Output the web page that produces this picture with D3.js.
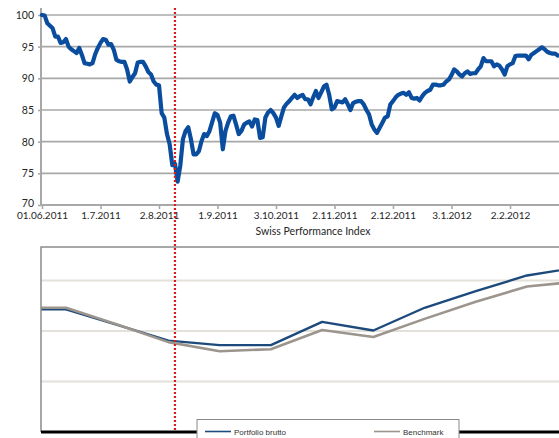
<!DOCTYPE html>
<html>
<head>
<meta charset="utf-8">
<script src="https://cdn.jsdelivr.net/npm/d3@7"></script>
<style>
  html, body { margin: 0; padding: 0; background: #fff; }
  svg { display: block; }
</style>
</head>
<body>
<div id="chart"></div>
<script>
// --- data -------------------------------------------------------------
// Swiss Performance Index, rebased to 100, one value per trading day
var spiValues = [
	100, 99.9, 98.7, 98.3, 97.9, 96.6, 96.6, 95.6, 95.7, 96.2,
	95.0, 94.6, 94.3, 94.0, 94.8, 93.7, 92.4, 92.3, 92.2, 92.4,
	93.8, 94.8, 95.6, 96.2, 96.1, 95.3, 95.4, 94.5, 92.9, 92.7,
	92.6, 92.6, 91.4, 89.5, 90.2, 90.8, 92.5, 92.6, 92.6, 91.9,
	91.0, 90.6, 89.5, 89.0, 88.9, 84.5, 83.8, 81.2, 79.6, 76.3,
	76.5, 73.7, 76.2, 80.4, 81.7, 82.3, 80.4, 78.0, 78.0, 78.5,
	80.1, 81.2, 80.9, 81.7, 83.1, 84.5, 84.2, 83.0, 78.8, 81.7,
	83.0, 84.0, 84.1, 82.7, 81.2, 81.7, 82.7, 83.0, 83.2, 82.4,
	83.5, 83.4, 80.6, 80.7, 83.8, 84.6, 85.0, 84.5, 83.8, 82.5,
	84.0, 85.4, 86.0, 86.4, 86.9, 87.4, 86.9, 87.2, 87.4, 86.7,
	86.7, 85.9, 87.0, 88.0, 86.9, 87.8, 88.7, 89.0, 87.4, 85.1,
	85.4, 86.4, 86.3, 86.2, 86.7, 85.9, 85.0, 86.1, 86.3, 86.4,
	86.4, 85.9, 85.0, 84.3, 82.7, 81.9, 81.4, 82.2, 83.0, 83.8,
	84.0, 85.9, 86.4, 87.0, 87.4, 87.6, 87.7, 87.4, 87.8, 86.9,
	86.8, 86.9, 86.5, 87.2, 87.7, 88.0, 88.2, 89.0, 89.0, 88.9,
	88.9, 89.0, 89.5, 89.8, 90.5, 91.4, 91.1, 90.6, 90.3, 90.8,
	91.1, 90.7, 90.8, 90.8, 91.4, 91.9, 93.2, 92.7, 92.7, 92.7,
	91.9, 92.2, 92.0, 91.4, 90.6, 91.9, 92.2, 92.4, 93.5, 93.6,
	93.6, 93.6, 93.6, 93.0, 93.7, 94.0, 94.3, 94.6, 94.9, 94.6,
	94.2, 94.0, 93.9, 93.9, 93.6
];

// category axis labels every 22 trading days
var spiTickDays = [0, 22, 44, 66, 88, 110, 132, 154, 176];
var spiTickLabels = ["01.06.2011", "1.7.2011", "2.8.2011", "1.9.2011", "3.10.2011",
	"2.11.2011", "2.12.2011", "3.1.2012", "2.2.2012"];
var spiYTicks = [70, 75, 80, 85, 90, 95, 100];

// trading day of the marked event (red dotted line)
var markerDay = 50;

// lower chart, one value per period (first period lies left of the frame)
var periods = [0, 1, 2, 3, 4, 5, 6, 7, 8, 9, 10, 11];
var portfolioValues = [97.15, 97.15, 95.6, 94.05, 93.6, 93.6, 95.9, 95.05, 97.3, 98.95, 100.5, 101.3];
var benchmarkValues = [97.3, 97.3, 95.65, 93.9, 93.0, 93.2, 95.1, 94.4, 96.2, 97.9, 99.4, 99.9];
var lowerGrid = [90, 95, 100];
var lowerBase = 85;
var seriesNames = ["Portfolio brutto", "Benchmark"];

// --- layout -----------------------------------------------------------
var WIDTH = 559;
var HEIGHT = 438;
var GRID_COLOR = "#a8a8a8";
var TEXT_COLOR = "#262626";
var SPI_COLOR = "#0a4d9e";
var PORTFOLIO_COLOR = "#1d4a7c";
var BENCHMARK_COLOR = "#9c958d";
var LABEL_FONT = "Lato, 'Open Sans', sans-serif";

var svg = d3.select("#chart").append("svg")
	.attr("width", WIDTH)
	.attr("height", HEIGHT);

// ---------------------------------------------------------------------
// upper chart: Swiss Performance Index
// ---------------------------------------------------------------------
var x = d3.scaleLinear().domain([0, 176]).range([42, 510]);
var y = d3.scaleLinear().domain([70, 100]).range([205, 15]);

var upperG = svg.append("g").attr("font-family", LABEL_FONT);

// horizontal gridlines
upperG.selectAll("line.grid")
	.data(spiYTicks.filter(function (d) { return d > 70; }))
	.enter().append("line")
	.attr("class", "grid")
	.attr("x1", 41).attr("x2", WIDTH)
	.attr("y1", function (d) { return y(d); })
	.attr("y2", function (d) { return y(d); })
	.attr("stroke", GRID_COLOR)
	.attr("stroke-width", 1.6);

// y axis
var yAxis = d3.axisLeft(y).tickValues(spiYTicks).tickSize(3).tickPadding(4);
var yAxisG = upperG.append("g")
	.attr("transform", "translate(41,0)")
	.call(yAxis);
yAxisG.select(".domain").remove();
yAxisG.selectAll(".tick line").attr("stroke", GRID_COLOR).attr("stroke-width", 1.6);
yAxisG.selectAll(".tick text")
	.attr("fill", TEXT_COLOR)
	.attr("font-size", 10.5)
	.attr("font-family", LABEL_FONT)
	.attr("dy", function (d) { return d === 70 ? "0.1em" : "0.32em"; });

upperG.append("line")
	.attr("x1", 41).attr("x2", 41)
	.attr("y1", 8).attr("y2", y(70) + 1)
	.attr("stroke", GRID_COLOR)
	.attr("stroke-width", 2);

// x axis
var xAxis = d3.axisBottom(x)
	.tickValues(spiTickDays)
	.tickFormat(function (d, i) { return spiTickLabels[i]; })
	.tickSize(4)
	.tickPadding(3);
var xAxisG = upperG.append("g")
	.attr("transform", "translate(0," + y(70) + ")")
	.call(xAxis);
xAxisG.select(".domain").remove();
xAxisG.selectAll(".tick line").attr("stroke", GRID_COLOR).attr("stroke-width", 1.6);
xAxisG.selectAll(".tick text")
	.attr("fill", TEXT_COLOR)
	.attr("font-size", 10)
	.attr("font-family", LABEL_FONT);

upperG.append("line")
	.attr("x1", 41).attr("x2", WIDTH)
	.attr("y1", y(70)).attr("y2", y(70))
	.attr("stroke", GRID_COLOR)
	.attr("stroke-width", 2);

// title below the axis
upperG.append("text")
	.attr("x", 313)
	.attr("y", 235)
	.attr("text-anchor", "middle")
	.attr("font-size", 10.5)
	.attr("fill", TEXT_COLOR)
	.text("Swiss Performance Index");

// index line
var spiLine = d3.line()
	.x(function (d, i) { return x(i); })
	.y(function (d) { return y(d); });

upperG.append("path")
	.datum(spiValues)
	.attr("d", spiLine)
	.attr("fill", "none")
	.attr("stroke", SPI_COLOR)
	.attr("stroke-width", 4.2)
	.attr("stroke-linejoin", "round")
	.attr("stroke-linecap", "round");

// ---------------------------------------------------------------------
// lower chart: portfolio vs benchmark
// ---------------------------------------------------------------------
var plotLeft = 41, plotTop = 247, plotBottom = 432;
var xb = d3.scaleLinear().domain([1, 10]).range([66, 527]);
var yb = d3.scaleLinear().domain([90, 100]).range([381.5, 280.5]);

var lowerG = svg.append("g");

svg.append("clipPath")
	.attr("id", "lower-clip")
	.append("rect")
	.attr("x", plotLeft)
	.attr("y", plotTop)
	.attr("width", WIDTH - plotLeft)
	.attr("height", plotBottom - plotTop);

lowerG.selectAll("line.grid")
	.data(lowerGrid)
	.enter().append("line")
	.attr("class", "grid")
	.attr("x1", plotLeft).attr("x2", WIDTH)
	.attr("y1", function (d) { return yb(d); })
	.attr("y2", function (d) { return yb(d); })
	.attr("stroke", "#e4e0da")
	.attr("stroke-width", 2);

var seriesLine = function (values) {
	return d3.line()
		.x(function (d, i) { return xb(periods[i]); })
		.y(function (d) { return yb(d); })(values);
};

var lines = lowerG.append("g").attr("clip-path", "url(#lower-clip)");

lines.append("path")
	.attr("d", seriesLine(portfolioValues))
	.attr("fill", "none")
	.attr("stroke", PORTFOLIO_COLOR)
	.attr("stroke-width", 2.4)
	.attr("stroke-linejoin", "round");

lines.append("path")
	.attr("d", seriesLine(benchmarkValues))
	.attr("fill", "none")
	.attr("stroke", BENCHMARK_COLOR)
	.attr("stroke-width", 2.6)
	.attr("stroke-linejoin", "round");

// frame
lowerG.append("path")
	.attr("d", "M" + plotLeft + "," + plotBottom + "V" + plotTop + "H" + WIDTH)
	.attr("fill", "none")
	.attr("stroke", "#8a8a8a")
	.attr("stroke-width", 1.5);

// base line
lowerG.append("line")
	.attr("x1", plotLeft).attr("x2", WIDTH)
	.attr("y1", yb(lowerBase)).attr("y2", yb(lowerBase))
	.attr("stroke", "#000")
	.attr("stroke-width", 3);

// legend
var legend = lowerG.append("g")
	.attr("font-family", "'Liberation Sans', Arial, sans-serif")
	.attr("font-size", 8);

legend.append("rect")
	.attr("x", 197).attr("y", 419.5)
	.attr("width", 262).attr("height", 30)
	.attr("fill", "#fff")
	.attr("stroke", "#8a8a8a")
	.attr("stroke-width", 1);

var legendItems = [
	{ name: seriesNames[0], color: PORTFOLIO_COLOR, x: 205 },
	{ name: seriesNames[1], color: BENCHMARK_COLOR, x: 374 }
];

legendItems.forEach(function (item) {
	legend.append("line")
		.attr("x1", item.x).attr("x2", item.x + 26)
		.attr("y1", 431.5).attr("y2", 431.5)
		.attr("stroke", item.color)
		.attr("stroke-width", 1.6);
	legend.append("text")
		.attr("x", item.x + 29)
		.attr("y", 434.5)
		.attr("fill", "#333")
		.text(item.name);
});

// ---------------------------------------------------------------------
// event marker across both charts
// ---------------------------------------------------------------------
svg.append("line")
	.attr("x1", x(markerDay)).attr("x2", x(markerDay))
	.attr("y1", 8).attr("y2", 430)
	.attr("stroke", "#d41f1f")
	.attr("stroke-width", 2.2)
	.attr("stroke-dasharray", "2,2");
</script>
</body>
</html>
